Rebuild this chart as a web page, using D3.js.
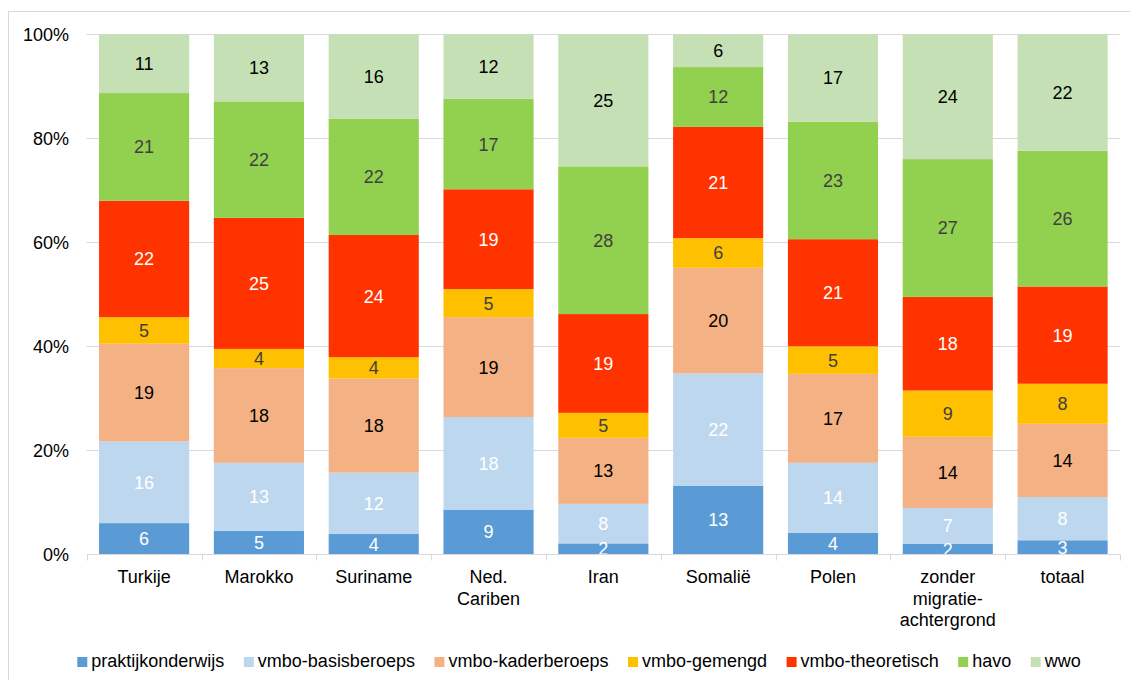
<!DOCTYPE html>
<html>
<head>
<meta charset="utf-8">
<script src="https://cdn.jsdelivr.net/npm/d3@7"></script>
<style>
  html, body { margin: 0; padding: 0; background: #fff; }
  svg { display: block; font-family: "Liberation Sans", Arial, sans-serif; }
</style>
</head>
<body>
<svg id="chart" width="1130" height="680"></svg>
<script>
// ---- data ----
const categories = ["Turkije", "Marokko", "Suriname", "Ned.\nCariben", "Iran", "Somalië", "Polen", "zonder\nmigratie-\nachtergrond", "totaal"];
const seriesNames = ["praktijkonderwijs", "vmbo-basisberoeps", "vmbo-kaderberoeps", "vmbo-gemengd", "vmbo-theoretisch", "havo", "wwo"];
const praktijkonderwijs = [6.0, 4.5, 3.9, 8.6, 2.1, 13.2, 4.1, 2.0, 2.7];
const vmboBasisberoeps  = [15.7, 13.1, 11.8, 17.8, 7.6, 21.6, 13.5, 6.9, 8.3];
const vmboKaderberoeps  = [18.8, 18.2, 18.1, 19.2, 12.7, 20.3, 17.1, 13.7, 14.1];
const vmboGemengd       = [5.1, 3.7, 4.1, 5.4, 4.8, 5.7, 5.3, 8.9, 7.7];
const vmboTheoretisch   = [22.4, 25.2, 23.5, 19.2, 19.0, 21.4, 20.6, 18.0, 18.7];
const havo              = [20.7, 22.4, 22.4, 17.4, 28.4, 11.5, 22.6, 26.5, 26.1];
const wwo               = [11.3, 12.9, 16.2, 12.4, 25.4, 6.3, 16.8, 24.0, 22.4];
const yTicks = [0, 0.2, 0.4, 0.6, 0.8, 1.0];

const seriesValues = [praktijkonderwijs, vmboBasisberoeps, vmboKaderberoeps, vmboGemengd, vmboTheoretisch, havo, wwo];
const colors = ["#5B9BD5", "#BDD7EE", "#F4B183", "#FFC000", "#FF3300", "#92D050", "#C5E0B4"];
const labelColors = ["#FFFFFF", "#FFFFFF", "#000000", "#404040", "#FFFFFF", "#404040", "#000000"];

const rows = categories.map((c, i) => {
  const r = { cat: c };
  seriesNames.forEach((s, j) => r[s] = seriesValues[j][i]);
  return r;
});

const svg = d3.select("#chart");
const x0 = 86.7, x1 = 1120, yTop = 34.3, yBot = 554.3;

// outer frame (only top & left visible)
svg.append("rect").attr("x", 8.5).attr("y", 11.5).attr("width", 1200).attr("height", 800)
  .attr("fill", "none").attr("stroke", "#D9D9D9").attr("stroke-width", 1);

const x = d3.scaleBand().domain(categories).range([x0, x1]).paddingInner(0.215).paddingOuter(0.1075);
const y = d3.scaleLinear().domain([0, 1]).range([yBot, yTop]);

// gridlines
svg.append("g").selectAll("line").data(yTicks.filter(t => t > 0)).join("line")
  .attr("x1", x0).attr("x2", x1)
  .attr("y1", d => Math.round(y(d)) + 0.5).attr("y2", d => Math.round(y(d)) + 0.5)
  .attr("stroke", "#D9D9D9").attr("stroke-width", 1);

// y labels
svg.append("g").selectAll("text").data(yTicks).join("text")
  .attr("x", 69).attr("y", d => y(d)).attr("dy", "0.36em")
  .attr("text-anchor", "end").attr("font-size", 18).attr("fill", "#000")
  .text(d => d3.format(".0%")(d));

// stack
const stack = d3.stack().keys(seriesNames).offset(d3.stackOffsetExpand);
const stacked = stack(rows);

const groups = svg.append("g").selectAll("g").data(stacked).join("g")
  .attr("fill", (d, i) => colors[i]);
groups.selectAll("rect").data(d => d).join("rect")
  .attr("x", d => x(d.data.cat))
  .attr("width", x.bandwidth())
  .attr("y", d => y(d[1]))
  .attr("height", d => y(d[0]) - y(d[1]));

// data labels
const labelG = svg.append("g");
stacked.forEach((s, i) => {
  labelG.append("g").selectAll("text").data(s).join("text")
    .attr("x", d => x(d.data.cat) + x.bandwidth() / 2)
    .attr("y", d => (y(d[0]) + y(d[1])) / 2)
    .attr("dy", "0.36em")
    .attr("text-anchor", "middle").attr("font-size", 18)
    .attr("fill", labelColors[i])
    .text(d => Math.round(d.data[s.key]));
});

// x axis line and ticks
const axisG = svg.append("g").attr("transform", `translate(0,${Math.round(yBot) + 0.5})`);
axisG.append("line").attr("x1", x0).attr("x2", x1).attr("stroke", "#D9D9D9");
const bounds = d3.range(categories.length + 1).map(i => x0 + i * ((x1 - x0) / categories.length));
axisG.selectAll("line.tick").data(bounds).join("line").attr("class", "tick")
  .attr("x1", d => Math.round(d) + 0.5).attr("x2", d => Math.round(d) + 0.5)
  .attr("y1", 0).attr("y2", 6).attr("stroke", "#D9D9D9");

// category labels
const catG = svg.append("g");
categories.forEach(c => {
  const t = catG.append("text").attr("text-anchor", "middle").attr("font-size", 18).attr("fill", "#000");
  c.split("\n").forEach((line, k) => {
    t.append("tspan").attr("x", x(c) + x.bandwidth() / 2).attr("y", 583 + k * 21.5).text(line);
  });
});

// legend
const legend = svg.append("g");
const items = legend.selectAll("g").data(seriesNames).join("g");
items.append("rect").attr("width", 10).attr("height", 10).attr("y", 657).attr("fill", (d, i) => colors[i]);
items.append("text").attr("x", 14).attr("y", 667).attr("font-size", 18).attr("fill", "#000").text(d => d);
const gap = 19.5;
const widths = [];
items.each(function () { widths.push(14 + d3.select(this).select("text").node().getComputedTextLength()); });
const total = d3.sum(widths) + gap * (widths.length - 1);
let cx = 579 - total / 2;
items.each(function (d, i) {
  d3.select(this).attr("transform", `translate(${cx},0)`);
  cx += widths[i] + gap;
});
</script>
</body>
</html>
